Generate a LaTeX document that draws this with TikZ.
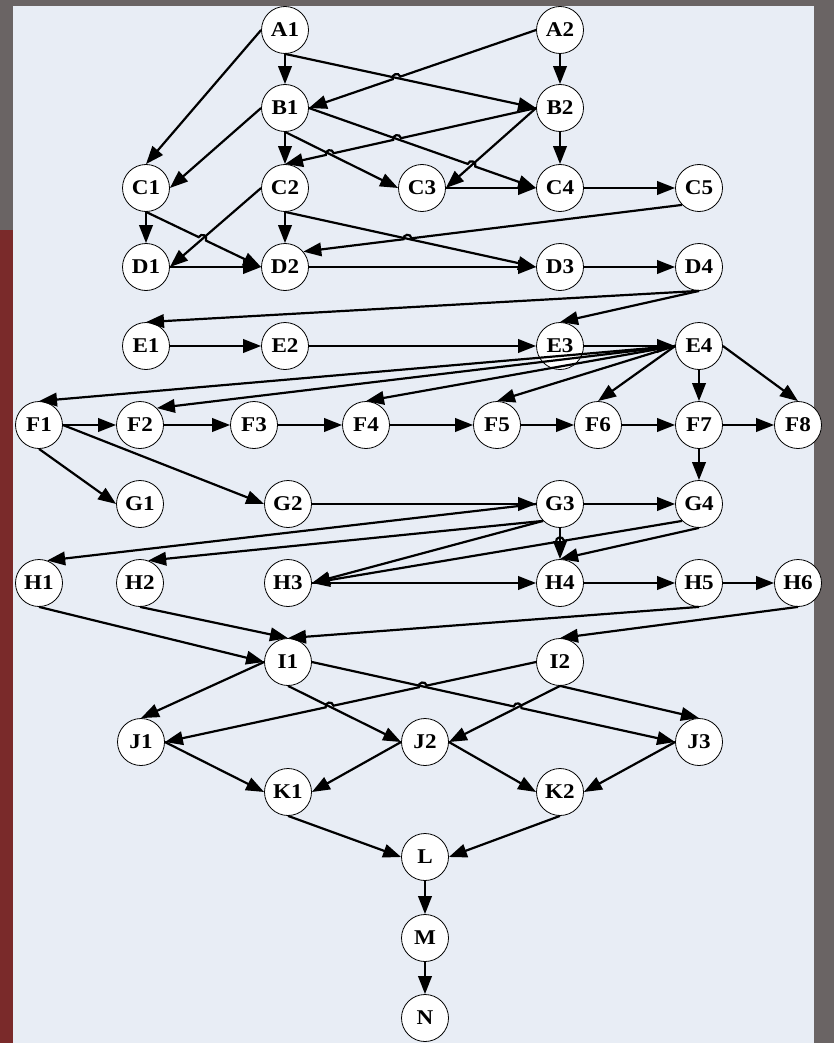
\documentclass[tikz,border=0pt]{standalone}
\usepackage{fontspec}
\setmainfont{Liberation Serif}
\newfontfamily\nodefont{Liberation Serif}[FakeStretch=1.1]
\usetikzlibrary{arrows.meta,calc,intersections}
\definecolor{panel}{HTML}{E8EDF5}
\definecolor{outer}{HTML}{6A6464}
\definecolor{outerred}{HTML}{7A2A2A}
\tikzset{
  vtx/.style={circle,draw=black,line width=0.8pt,fill=white,minimum size=47pt,inner sep=0pt,
    font=\nodefont\bfseries\fontsize{21}{23}\selectfont},
  edge/.style={draw=black,line width=2.2pt,-{Triangle[length=18pt,width=13.5pt]}}
}
\newcommand{\hopr}{4pt}
\newcommand{\hopc}{5.3pt}
% one hop: #1 angle, #2 opposite angle, #3 from, #4 to, #5/#6 crossed line
\newcommand{\hopedge}[6]{%
  \path[name path=hpa] (#3) -- (#4);
  \path[name path=hpb] (#5) -- (#6);
  \path[name intersections={of=hpa and hpb, by=hx}];
  \coordinate (hp1) at ($(hx)!\hopr!(#3)$);
  \coordinate (hp2) at ($(hx)!\hopr!(#4)$);
  \coordinate (hc1) at ($(hp1)!\hopc!#1:(hx)$);
  \coordinate (hc2) at ($(hp2)!\hopc!#2:(hx)$);
  \draw[edge] (#3) -- (hp1) .. controls (hc1) and (hc2) .. (hp2) -- (#4);
}
% two hops: first crossing #5/#6 (nearer #3), then #7/#8
\newcommand{\hopedgetwo}[8]{%
  \path[name path=hpa] (#3) -- (#4);
  \path[name path=hpb] (#5) -- (#6);
  \path[name path=hpc] (#7) -- (#8);
  \path[name intersections={of=hpa and hpb, by=hx}];
  \path[name intersections={of=hpa and hpc, by=hy}];
  \coordinate (hp1) at ($(hx)!\hopr!(#3)$);
  \coordinate (hp2) at ($(hx)!\hopr!(#4)$);
  \coordinate (hc1) at ($(hp1)!\hopc!#1:(hx)$);
  \coordinate (hc2) at ($(hp2)!\hopc!#2:(hx)$);
  \coordinate (hq1) at ($(hy)!\hopr!(#3)$);
  \coordinate (hq2) at ($(hy)!\hopr!(#4)$);
  \coordinate (hd1) at ($(hq1)!\hopc!#1:(hy)$);
  \coordinate (hd2) at ($(hq2)!\hopc!#2:(hy)$);
  \draw[edge] (#3) -- (hp1) .. controls (hc1) and (hc2) .. (hp2)
     -- (hq1) .. controls (hd1) and (hd2) .. (hq2) -- (#4);
}
\begin{document}
\begin{tikzpicture}[x=1pt,y=-1pt]
\useasboundingbox (0,0) rectangle (834,1043);
\fill[outer] (0,0) rectangle (834,1043);
\fill[outerred] (0,230) rectangle (13,1043);
\fill[panel] (13,6) rectangle (814,1043);

% nodes
\node[vtx] (A1) at (285,30) {A1};
\node[vtx] (A2) at (560,30) {A2};
\node[vtx] (B1) at (285,108) {B1};
\node[vtx] (B2) at (560,108) {B2};
\node[vtx] (C1) at (146,188) {C1};
\node[vtx] (C2) at (285,188) {C2};
\node[vtx] (C3) at (422,188) {C3};
\node[vtx] (C4) at (560,188) {C4};
\node[vtx] (C5) at (699,188) {C5};
\node[vtx] (D1) at (146,267) {D1};
\node[vtx] (D2) at (285,267) {D2};
\node[vtx] (D3) at (560,267) {D3};
\node[vtx] (D4) at (699,267) {D4};
\node[vtx] (E1) at (146,346) {E1};
\node[vtx] (E2) at (285,346) {E2};
\node[vtx] (E3) at (560,346) {E3};
\node[vtx] (E4) at (699,346) {E4};
\node[vtx] (F1) at (39,425) {F1};
\node[vtx] (F2) at (140,425) {F2};
\node[vtx] (F3) at (254,425) {F3};
\node[vtx] (F4) at (366,425) {F4};
\node[vtx] (F5) at (497,425) {F5};
\node[vtx] (F6) at (598,425) {F6};
\node[vtx] (F7) at (699,425) {F7};
\node[vtx] (F8) at (798,425) {F8};
\node[vtx] (G1) at (140,504) {G1};
\node[vtx] (G2) at (288,504) {G2};
\node[vtx] (G3) at (560,504) {G3};
\node[vtx] (G4) at (699,504) {G4};
\node[vtx] (H1) at (39,583) {H1};
\node[vtx] (H2) at (140,583) {H2};
\node[vtx] (H3) at (288,583) {H3};
\node[vtx] (H4) at (560,583) {H4};
\node[vtx] (H5) at (699,583) {H5};
\node[vtx] (H6) at (798,583) {H6};
\node[vtx] (I1) at (288,662) {I1};
\node[vtx] (I2) at (560,662) {I2};
\node[vtx] (J1) at (141,742) {J1};
\node[vtx] (J2) at (425,742) {J2};
\node[vtx] (J3) at (699,742) {J3};
\node[vtx] (K1) at (288,792) {K1};
\node[vtx] (K2) at (560,792) {K2};
\node[vtx] (L) at (425,857) {L};
\node[vtx] (M) at (425,938) {M};
\node[vtx] (N) at (425,1018) {N};

% edges A-B-C
\draw[edge] (A1.south) -- (B1.north);
\draw[edge] (A1.west) -- (C1.north);
\draw[edge] (A1.south) -- (B2.west);
\hopedge{-90}{90}{A2.west}{B1.east}{A1.south}{B2.west}
\draw[edge] (A2.south) -- (B2.north);
\draw[edge] (B1.west) -- (C1.east);
\draw[edge] (B1.south) -- (C2.north);
\draw[edge] (B1.south) -- (C3.west);
\hopedge{90}{-90}{B1.east}{C4.west}{B2.west}{C3.east}
\hopedgetwo{-90}{90}{B2.west}{C2.north}{B1.east}{C4.west}{B1.south}{C3.west}
\draw[edge] (B2.west) -- (C3.east);
\draw[edge] (B2.south) -- (C4.north);
\draw[edge] (C3.east) -- (C4.west);
\draw[edge] (C4.east) -- (C5.west);
% C-D
\draw[edge] (C1.south) -- (D1.north);
\hopedge{90}{-90}{C1.south}{D2.west}{C2.west}{D1.east}
\draw[edge] (C2.west) -- (D1.east);
\draw[edge] (C2.south) -- (D2.north);
\draw[edge] (C2.south) -- (D3.west);
\hopedge{-90}{90}{C5.south west}{D2.40}{C2.south}{D3.west}
\draw[edge] (D1.east) -- (D2.west);
\draw[edge] (D2.east) -- (D3.west);
\draw[edge] (D3.east) -- (D4.west);
% D-E
\draw[edge] (D4.south) -- (E1.north);
\draw[edge] (D4.south) -- (E3.north);
\draw[edge] (E1.east) -- (E2.west);
\draw[edge] (E2.east) -- (E3.west);
\draw[edge] (E3.east) -- (E4.west);
% E-F
\draw[edge] (E4.west) -- (F1.north);
\draw[edge] (E4.west) -- (F2.north east);
\draw[edge] (E4.west) -- (F4.north);
\draw[edge] (E4.west) -- (F5.north);
\draw[edge] (E4.west) -- (F6.north);
\draw[edge] (E4.south) -- (F7.north);
\draw[edge] (E4.east) -- (F8.north);
\draw[edge] (F1.east) -- (F2.west);
\draw[edge] (F2.east) -- (F3.west);
\draw[edge] (F3.east) -- (F4.west);
\draw[edge] (F4.east) -- (F5.west);
\draw[edge] (F5.east) -- (F6.west);
\draw[edge] (F6.east) -- (F7.west);
\draw[edge] (F7.east) -- (F8.west);
% F-G
\draw[edge] (F1.south) -- (G1.west);
\draw[edge] (F1.east) -- (G2.west);
\draw[edge] (F7.south) -- (G4.north);
\draw[edge] (G2.east) -- (G3.west);
\draw[edge] (G3.east) -- (G4.west);
% G-H
\draw[edge] (G3.west) -- (H1.70);
\draw[edge] (G3.south west) -- (H2.70);
\draw[edge] (G3.south west) -- (H3.east);
\draw[edge] (G3.south) -- (H4.north);
\hopedge{-90}{90}{G4.south west}{H3.east}{G3.south}{H4.north}
\draw[edge] (G4.south) -- (H4.north);
\draw[edge] (H3.east) -- (H4.west);
\draw[edge] (H4.east) -- (H5.west);
\draw[edge] (H5.east) -- (H6.west);
% H-I
\draw[edge] (H1.south) -- (I1.west);
\draw[edge] (H2.south) -- (I1.north);
\draw[edge] (H5.south) -- (I1.north);
\draw[edge] (H6.south) -- (I2.north);
% I-J
\draw[edge] (I1.west) -- (J1.north);
\draw[edge] (I1.south) -- (J2.west);
\hopedge{90}{-90}{I1.east}{J3.west}{I2.south}{J2.east}
\hopedgetwo{-90}{90}{I2.west}{J1.east}{I1.east}{J3.west}{I1.south}{J2.west}
\draw[edge] (I2.south) -- (J2.east);
\draw[edge] (I2.south) -- (J3.north);
% J-K-L-M-N
\draw[edge] (J1.east) -- (K1.west);
\draw[edge] (J2.west) -- (K1.east);
\draw[edge] (J2.east) -- (K2.west);
\draw[edge] (J3.west) -- (K2.east);
\draw[edge] (K1.south) -- (L.west);
\draw[edge] (K2.south) -- (L.east);
\draw[edge] (L.south) -- (M.north);
\draw[edge] (M.south) -- (N.north);
\end{tikzpicture}
\end{document}
